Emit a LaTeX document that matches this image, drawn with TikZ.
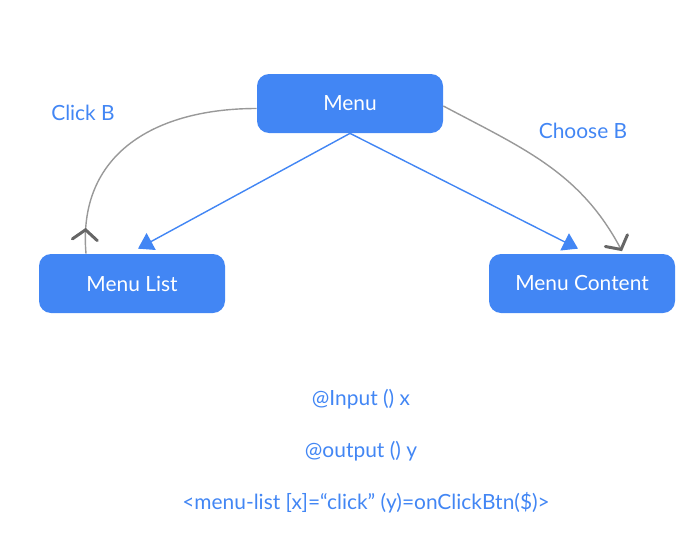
\documentclass[tikz,border=0pt]{standalone}
\usepackage{fontspec}
\setmainfont{Lato}
\usepackage{xcolor}
\usetikzlibrary{arrows.meta,positioning,decorations.markings}
\definecolor{gblue}{HTML}{4286F4}
\definecolor{edgegray}{HTML}{999999}
\definecolor{tipgray}{HTML}{666666}

\begin{document}
\begin{tikzpicture}[
  font=\fontsize{11.9}{14}\selectfont,
  menubox/.style={draw=none, rounded corners=2.4mm, fill=gblue, text=white,
                  minimum width=37.2mm, minimum height=11.8mm, inner sep=2pt},
  note/.style={text=gblue, inner sep=1pt},
  link/.style={draw=gblue, line width=0.8pt, -{Triangle[length=3mm,width=3.8mm]}},
  flow/.style={draw=edgegray, line width=0.8pt}]
  \useasboundingbox (0,0) rectangle (14,-11.2);
  \def\cL{2.64}\def\cM{7.0}\def\cR{11.64}
  \node[menubox] (menu) at (\cM,-2.07) {Menu};
  \node[menubox] (mlist) at (\cL,-5.67) {Menu List};
  \node[menubox] (mcont) at (\cR,-5.67) {Menu Content};
  \node[note] (click) at (1.66,-2.26) {Click B};
  \node[note] (choose) at (11.66,-2.62) {Choose B};
  % blue links
  \draw[link] (menu.south) -- ([xshift=1.2mm,yshift=1mm]mlist.north);
  \draw[link] (menu.south) -- ([xshift=-0.8mm,yshift=1mm]mcont.north);
  % gray event curves
  \draw[flow, postaction={decorate}, decoration={markings,
        mark=at position 0.1 with {\arrow[tipgray,line width=1.7pt]{Straight Barb[length=2mm,width=5mm,line cap=round]}}}]
    ([xshift=-9.2mm]mlist.north) to[out=95,in=180,looseness=1.15] ([yshift=-1mm]menu.west);
  \draw[flow, -{Straight Barb[length=2mm,width=5mm,line width=1.7pt,line cap=round,color=tipgray]}]
    ([yshift=-0.5mm]menu.east) to[out=-28,in=118] ([xshift=8mm,yshift=0.5mm]mcont.north);
  % code notes
  \node[note] (inp) at (7.22,-7.98) {@Input () x};
  \node[note] (outp) at (7.22,-9.02) {@output () y};
  \node[note] (tag) at (7.32,-10.06) {<menu-list [x]=“click” (y)=onClickBtn(\$)>};
\end{tikzpicture}
\end{document}
